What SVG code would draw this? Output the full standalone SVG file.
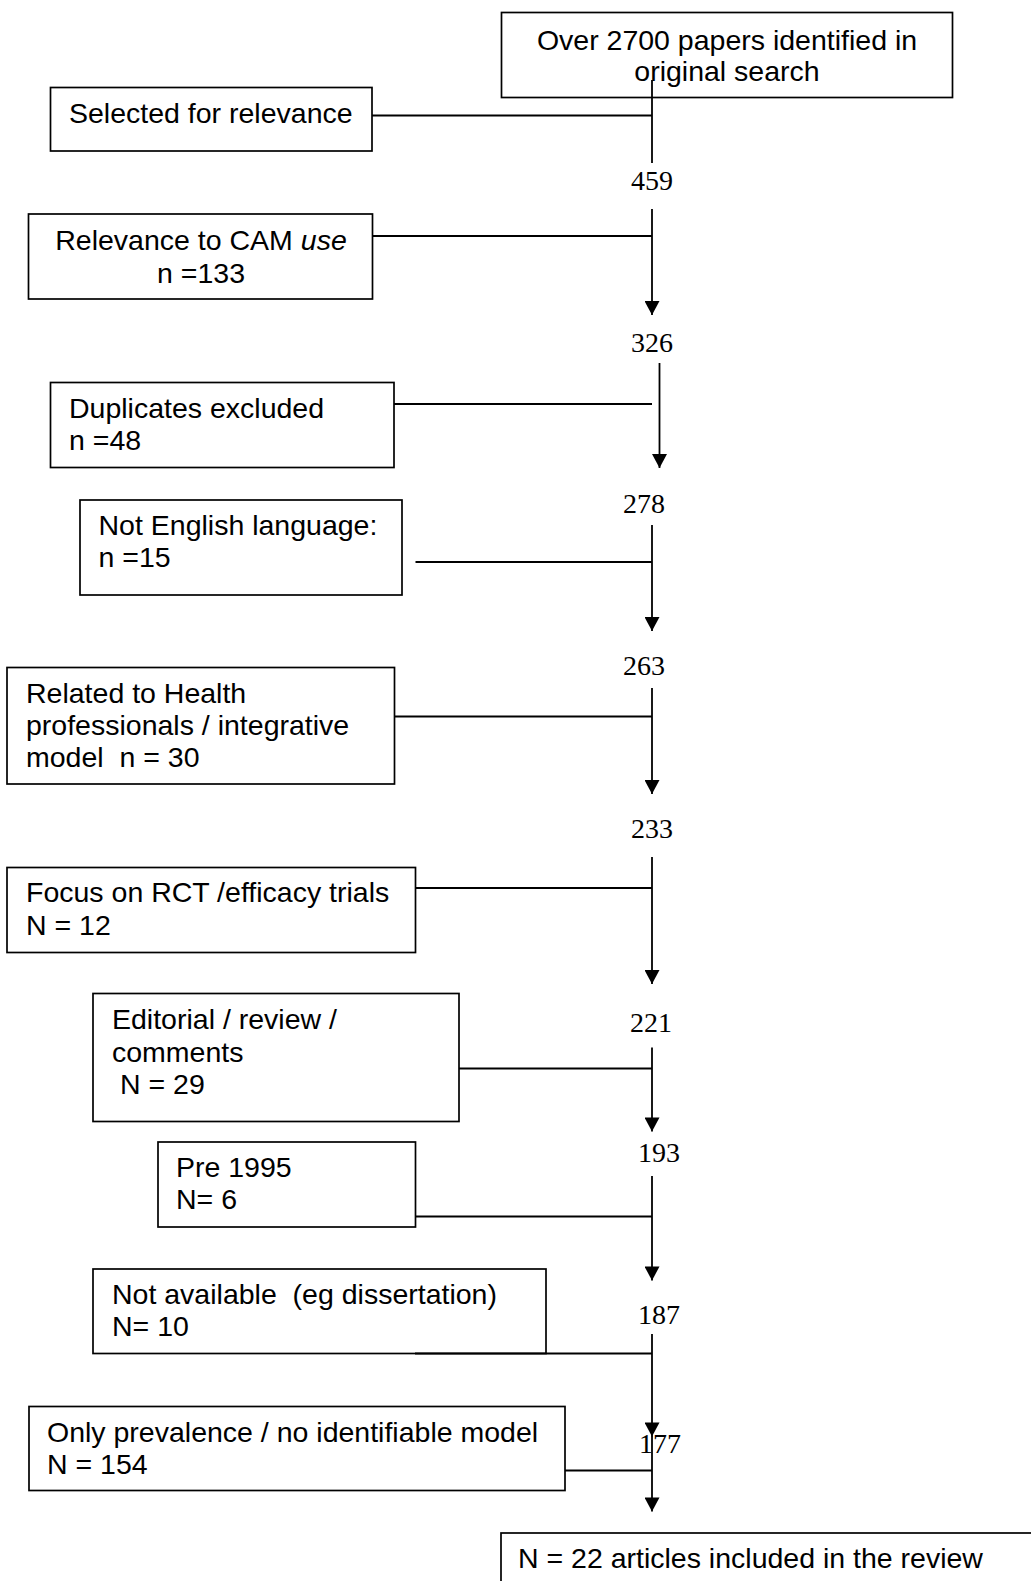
<svg xmlns="http://www.w3.org/2000/svg" width="1031" height="1581" viewBox="0 0 1031 1581">
<style>
.box{fill:#fff;stroke:#000;stroke-width:1.7}
.t{font-family:"Liberation Sans",Arial,sans-serif;font-size:28.5px;fill:#000}
.c{text-anchor:middle}
.num{font-family:"Liberation Serif","Times New Roman",serif;font-size:28px;fill:#000;text-anchor:middle}
.ln{stroke:#000;stroke-width:1.8;fill:none}
</style>
<defs>
<marker id="ah" markerUnits="userSpaceOnUse" markerWidth="15" markerHeight="15" viewBox="0 0 14 15" refX="14" refY="7.5" orient="auto">
<path d="M0,0 L14,7.5 L0,15 z" fill="#000"/>
</marker>
</defs>
<rect width="1031" height="1581" fill="#fff"/>

<g id="n-start">
<rect class="box" x="501.5" y="12.5" width="451" height="85"/>
<text class="t c" x="727" y="50">Over 2700 papers identified in</text>
<text class="t c" x="727" y="81">original search</text>
</g>

<g id="n-selected">
<rect class="box" x="50.5" y="87.5" width="321.5" height="63.5"/>
<text class="t" x="69" y="123">Selected for relevance</text>
</g>

<g id="n-cam">
<rect class="box" x="28.5" y="214" width="344" height="85"/>
<text class="t c" x="201" y="250">Relevance to CAM <tspan font-style="italic">use</tspan></text>
<text class="t c" x="201" y="283">n =133</text>
</g>

<g id="n-dup">
<rect class="box" x="50.5" y="382.5" width="343.5" height="85"/>
<text class="t" x="69" y="418">Duplicates excluded</text>
<text class="t" x="69" y="450">n =48</text>
</g>

<g id="n-eng">
<rect class="box" x="80" y="500" width="322" height="95"/>
<text class="t" x="98.5" y="535">Not English language:</text>
<text class="t" x="98.5" y="567">n =15</text>
</g>

<g id="n-health">
<rect class="box" x="7" y="667.5" width="387.5" height="116.5"/>
<text class="t" x="26" y="703">Related to Health</text>
<text class="t" x="26" y="735">professionals / integrative</text>
<text class="t" x="26" y="767" xml:space="preserve">model  n = 30</text>
</g>

<g id="n-rct">
<rect class="box" x="7" y="867.5" width="408.5" height="85"/>
<text class="t" x="26" y="902">Focus on RCT /efficacy trials</text>
<text class="t" x="26" y="935">N = 12</text>
</g>

<g id="n-editorial">
<rect class="box" x="93" y="993.5" width="366" height="128"/>
<text class="t" x="112" y="1029">Editorial / review /</text>
<text class="t" x="112" y="1062">comments</text>
<text class="t" x="120" y="1094">N = 29</text>
</g>

<g id="n-pre">
<rect class="box" x="158" y="1142" width="257.5" height="85"/>
<text class="t" x="176" y="1177">Pre 1995</text>
<text class="t" x="176" y="1209">N= 6</text>
</g>

<g id="n-na">
<rect class="box" x="93" y="1269" width="453" height="84.5"/>
<text class="t" x="112" y="1304" xml:space="preserve">Not available  (eg dissertation)</text>
<text class="t" x="112" y="1336">N= 10</text>
</g>

<g id="n-prev">
<rect class="box" x="29" y="1406.5" width="536" height="84"/>
<text class="t" x="47" y="1442">Only prevalence / no identifiable model</text>
<text class="t" x="47" y="1473.5">N = 154</text>
</g>

<g id="n-final">
<rect class="box" x="501" y="1533" width="600" height="100"/>
<text class="t" x="518" y="1568">N = 22 articles included in the review</text>
</g>

<g id="counts">
<text class="num" x="652" y="190">459</text>
<text class="num" x="652" y="352">326</text>
<text class="num" x="644" y="513">278</text>
<text class="num" x="644" y="675">263</text>
<text class="num" x="652" y="838">233</text>
<text class="num" x="651" y="1032">221</text>
<text class="num" x="659" y="1162">193</text>
<text class="num" x="659" y="1324">187</text>
<text class="num" x="660" y="1453">177</text>
</g>

<g id="connectors">
<line class="ln" x1="652" y1="80" x2="652" y2="163"/>
<line class="ln" x1="372" y1="115.5" x2="652" y2="115.5"/>

<line class="ln" x1="652" y1="209" x2="652" y2="315" marker-end="url(#ah)"/>
<line class="ln" x1="372" y1="236" x2="652" y2="236"/>

<line class="ln" x1="659.5" y1="363" x2="659.5" y2="468" marker-end="url(#ah)"/>
<line class="ln" x1="394" y1="404" x2="652" y2="404"/>

<line class="ln" x1="652" y1="525" x2="652" y2="631" marker-end="url(#ah)"/>
<line class="ln" x1="415.5" y1="562" x2="652" y2="562"/>

<line class="ln" x1="652" y1="688" x2="652" y2="794" marker-end="url(#ah)"/>
<line class="ln" x1="394.5" y1="716.5" x2="652" y2="716.5"/>

<line class="ln" x1="652" y1="857" x2="652" y2="984" marker-end="url(#ah)"/>
<line class="ln" x1="415.5" y1="888" x2="652" y2="888"/>

<line class="ln" x1="652" y1="1047.5" x2="652" y2="1131.5" marker-end="url(#ah)"/>
<line class="ln" x1="459" y1="1068.5" x2="652" y2="1068.5"/>

<line class="ln" x1="652" y1="1176" x2="652" y2="1280.5" marker-end="url(#ah)"/>
<line class="ln" x1="415.5" y1="1216.5" x2="652" y2="1216.5"/>

<line class="ln" x1="652" y1="1334" x2="652" y2="1436.5" marker-end="url(#ah)"/>
<line class="ln" x1="415" y1="1353.5" x2="652" y2="1353.5"/>

<line class="ln" x1="652" y1="1436" x2="652" y2="1511.5" marker-end="url(#ah)"/>
<line class="ln" x1="565" y1="1470.5" x2="652" y2="1470.5"/>
</g>
</svg>
